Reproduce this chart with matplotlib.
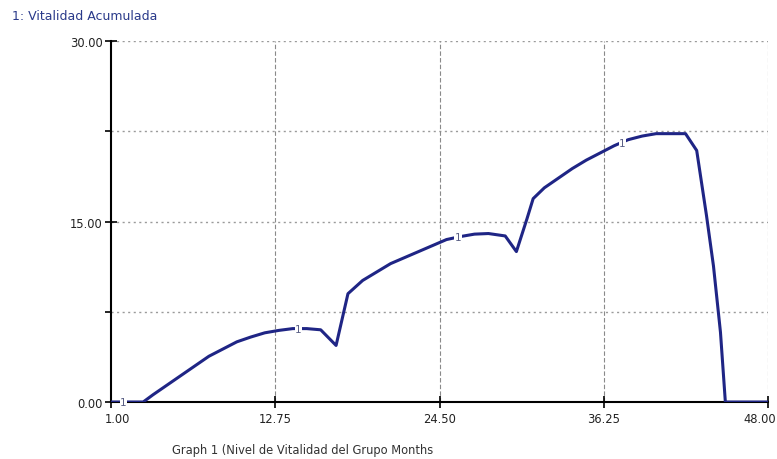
import matplotlib
matplotlib.use("Agg")
import matplotlib.pyplot as plt
import matplotlib.transforms as mtransforms

# Data
months = [1.0, 2.0, 3.3, 4.0, 5.0, 6.0, 7.0, 8.0, 9.0, 10.0, 11.0, 12.0, 13.0, 14.0, 15.0, 16.0,
          17.1, 17.95, 19.0, 20.0, 21.0, 22.0, 23.0, 24.0, 25.0, 26.0, 27.0, 28.0, 29.2,
          30.0, 30.75, 31.2, 32.0, 33.0, 34.0, 35.0, 36.0, 37.0, 38.0, 39.0, 40.0, 41.0, 42.1,
          42.9, 43.6, 44.1, 44.6, 44.95, 46.0, 48.0]
vitalidad = [0.0, 0.0, 0.0, 0.6, 1.4, 2.2, 3.0, 3.8, 4.4, 5.0, 5.4, 5.75, 5.95, 6.1, 6.1, 6.0,
             4.7, 9.0, 10.1, 10.8, 11.5, 12.0, 12.5, 13.0, 13.5, 13.75, 13.95, 14.0, 13.8,
             12.5, 15.2, 16.9, 17.8, 18.6, 19.4, 20.1, 20.7, 21.3, 21.8, 22.1, 22.3, 22.3, 22.3,
             20.9, 15.5, 11.3, 5.8, 0.0, 0.0, 0.0]
label_months = [1.9, 14.4, 25.8, 37.6]
label_values = [0.0, 6.1, 13.75, 21.5]
x_ticks = [1.00, 12.75, 24.50, 36.25, 48.00]
x_tick_labels = ["1.00", "12.75", "24.50", "36.25", "48.00"]
y_ticks = [0.0, 15.0, 30.0]
y_tick_labels = ["0.00", "15.00", "30.00"]
y_minor = [7.5, 22.5]

plt.rcParams['font.family'] = ['DejaVu Sans']

fig = plt.figure(figsize=(7.77, 4.6), dpi=100)
ax = fig.add_axes([0.1429, 0.1239, 0.9884 - 0.1429, 0.9087 - 0.1239])

line_color = "#1f2585"
ax.plot(months, vitalidad, color=line_color, lw=2.2, solid_joinstyle='round', zorder=3)
for xm, ym in zip(label_months, label_values):
    ax.text(xm, ym, "1", fontsize=7.5, color="#5a5f85", ha='center', va='center', zorder=4,
            bbox=dict(boxstyle='square,pad=0.05', fc='white', ec='none'))

ax.set_xlim(1, 48)
ax.set_ylim(0, 30)

# grid
for yv in [7.5, 15, 22.5, 30]:
    ax.axhline(yv, color="#9a9a9a", lw=1.0, ls=(0, (1.5, 2.5)), zorder=1)
for xv in [12.75, 24.5, 36.25, 48]:
    ax.axvline(xv, color="#8a8a8a", lw=0.8, ls=(0, (4, 2)), zorder=1)

for s in ['top', 'right']:
    ax.spines[s].set_visible(False)
for s in ['left', 'bottom']:
    ax.spines[s].set_color('black')
    ax.spines[s].set_linewidth(1.5)

ax.set_xticks(x_ticks)
ax.set_xticklabels(x_tick_labels, fontsize=8.3, color="#222222")
ax.set_yticks(y_ticks)
ax.set_yticklabels(y_tick_labels, fontsize=8.3, color="#222222")
ax.set_yticks(y_minor, minor=True)
ax.tick_params(axis='y', which='major', direction='inout', length=8, width=1.2, pad=2)
ax.tick_params(axis='y', which='minor', direction='out', length=4, width=1.2)
ax.tick_params(axis='x', which='major', direction='inout', length=8, width=1.2, pad=3)

xlabels = ax.get_xticklabels()
xlabels[0].set_horizontalalignment('left')
xlabels[0].set_transform(xlabels[0].get_transform() +
                         mtransforms.ScaledTranslation(-6 / 100, 0, fig.dpi_scale_trans))
xlabels[-1].set_horizontalalignment('right')
xlabels[-1].set_transform(xlabels[-1].get_transform() +
                          mtransforms.ScaledTranslation(8 / 100, 0, fig.dpi_scale_trans))

fig.text(12 / 777, 1 - 16 / 460, "1: Vitalidad Acumulada", fontsize=9, color="#2a3a8a",
         ha='left', va='center')
fig.text(172 / 777, 1 - 451 / 460, "Graph 1 (Nivel de Vitalidad del Grupo Months", fontsize=8.3,
         color="#333333", ha='left', va='center')

fig.savefig("out.png", dpi=100, facecolor='white')
